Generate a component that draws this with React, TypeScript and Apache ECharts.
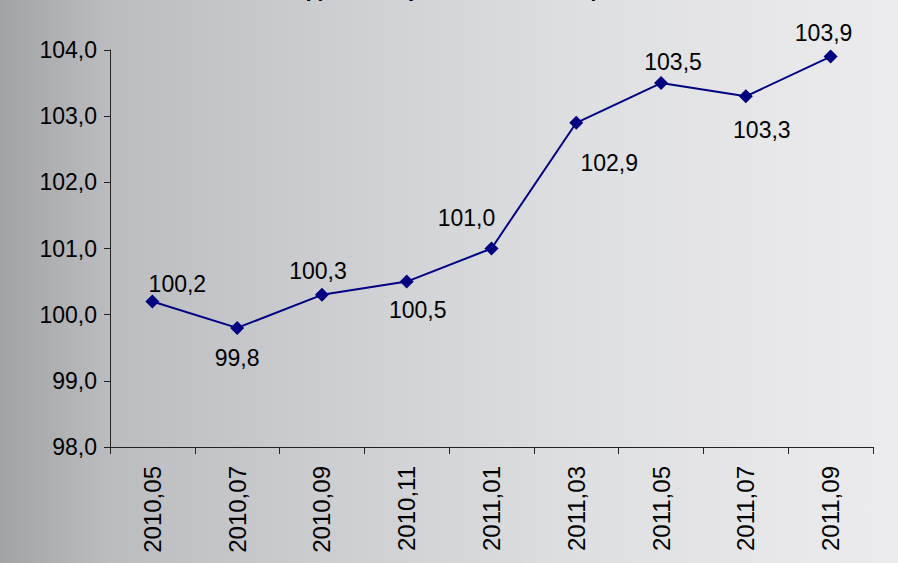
import React, { useEffect, useRef } from "react";
import * as echarts from "echarts";

const titleText = "Индекс потребительских цен";
const categories = ["2010,05", "2010,07", "2010,09", "2010,11", "2011,01", "2011,03", "2011,05", "2011,07", "2011,09"];
const values = [100.2, 99.8, 100.3, 100.5, 101.0, 102.9, 103.5, 103.3, 103.9];
const labelOffsets: [number, number][] = [
  [25, -17], [0, 30], [-4, -24], [11, 28], [-25, -31], [33, 40], [12, -21], [16, 34], [-7, -24],
];

const fmt = (v: number) => v.toFixed(1).replace(".", ",");

export default function App() {
  const ref = useRef<HTMLDivElement>(null);
  useEffect(() => {
    document.body.style.margin = "0";
    const chart = echarts.init(ref.current!, undefined, { renderer: "svg" });
    const font = "Arial, 'Liberation Sans', sans-serif";
    chart.setOption({
      animation: false,
      textStyle: { fontFamily: font },
      graphic: [
        {
          type: "text",
          left: "center",
          top: -25,
          style: { text: titleText, font: `bold 24px ${font}`, fill: "#000" },
        },
      ],
      grid: { left: 110, right: 25, top: 50, bottom: 116 },
      xAxis: {
        type: "category",
        data: categories,
        boundaryGap: true,
        axisLine: { lineStyle: { color: "#222", width: 1 } },
        axisTick: { show: true, length: 7, inside: false, alignWithLabel: false, lineStyle: { color: "#222" } },
        axisLabel: { rotate: 90, color: "#000", fontSize: 24, margin: 19, fontFamily: font },
      },
      yAxis: {
        type: "value",
        min: 98,
        max: 104,
        interval: 1,
        splitLine: { show: false },
        axisLine: { show: true, lineStyle: { color: "#222", width: 1 } },
        axisTick: { show: true, length: 6, lineStyle: { color: "#222" } },
        axisLabel: { color: "#000", fontSize: 23, margin: 13, fontFamily: font, formatter: (v: number) => fmt(v) },
      },
      series: [
        {
          type: "line",
          data: values.map((v, i) => ({
            value: v,
            label: {
              show: true,
              position: "inside",
              offset: labelOffsets[i],
              formatter: fmt(v),
              color: "#000",
              fontSize: 23,
              fontFamily: font,
            },
          })),
          symbol: "diamond",
          symbolSize: 14,
          lineStyle: { color: "#000080", width: 2 },
          itemStyle: { color: "#000080" },
        },
      ],
    });
    return () => chart.dispose();
  }, []);
  return (
    <div
      ref={ref}
      style={{
        position: "absolute",
        left: 0,
        top: 0,
        width: 898,
        height: 563,
        background: "linear-gradient(to right, #a2a3a7 0%, #bbbcc0 12%, #cfd0d3 40%, #dedfe1 65%, #ececee 100%)",
      }}
    />
  );
}
